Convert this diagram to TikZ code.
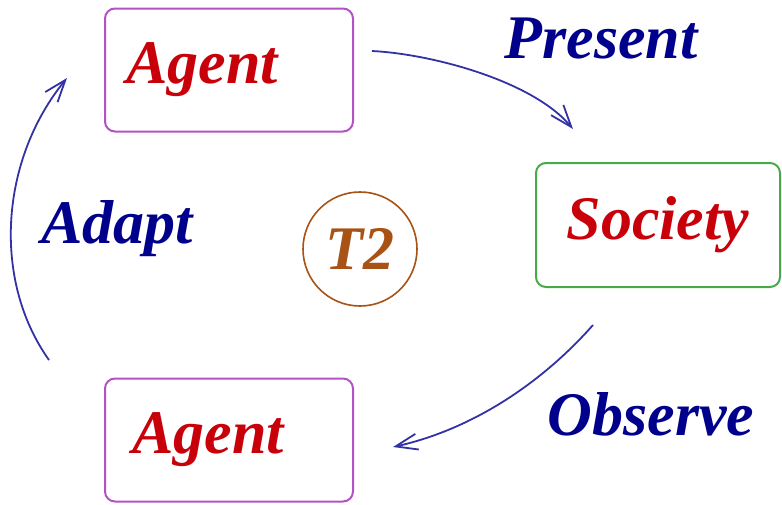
\documentclass[tikz,border=0pt]{standalone}
\usepackage{fontspec}
\setmainfont{Liberation Serif}
\usetikzlibrary{arrows.meta}

\definecolor{boxviolet}{RGB}{178,82,196}
\definecolor{boxgreen}{RGB}{70,170,70}
\definecolor{agentred}{RGB}{200,0,10}
\definecolor{labelnavy}{RGB}{0,0,140}
\definecolor{topicbrown}{RGB}{168,82,22}
\definecolor{flowblue}{RGB}{50,50,165}

\begin{document}
\begin{tikzpicture}[x=0.5pt, y=0.5pt, >={Straight Barb[length=11pt,width=8pt]},
	big text/.style={font=\fontsize{31}{36}\selectfont\bfseries\itshape},
	agent box/.style={big text, draw=boxviolet, line width=1pt, rounded corners=5pt,
		minimum width=124pt, minimum height=61.5pt, text=agentred},
	society box/.style={big text, draw=boxgreen, line width=1pt, rounded corners=5pt,
		minimum width=122pt, minimum height=62pt, text=agentred},
	topic circle/.style={big text, circle, draw=topicbrown, line width=0.8pt,
		minimum size=57pt, inner sep=0pt, text=topicbrown},
	flow label/.style={big text, anchor=base, text=labelnavy},
	flow/.style={->, draw=flowblue, line width=0.9pt}]
	
	\useasboundingbox (0,0) rectangle (782,-504);
	
	% the text sits left of the middle of each agent box
	\foreach \n/\y/\s in {top/70/27, bottom/440/21}
	\node [agent box] (agent-\n) at (229,-\y) {Agent\hspace*{\s pt}};
	
	\node [society box] (society) at (658,-225) {Society};
	
	\node [topic circle] (topic) at (360,-249) {T2};
	
	\foreach \l/\x/\y in {Present/601/58, Adapt/117/243, Observe/651/435}
	\node [flow label] (label-\l) at (\x,-\y) {\l};
	
	% arrow ends, kept clear of the boxes
	\coordinate (present-start) at (372,-51);
	\coordinate (present-end) at (573,-129);
	\coordinate (observe-start) at (593,-325);
	\coordinate (observe-end) at (393,-447);
	\coordinate (adapt-start) at (49,-360);
	\coordinate (adapt-end) at (67,-78);
	
	\draw [flow] (present-start) .. controls (432,-54) and (533,-81) .. (present-end);
	
	\draw [flow] (observe-start) .. controls (540,-385) and (470,-430) .. (observe-end);
	
	\draw [flow] (adapt-start) .. controls (-8,-280) and (0,-160) .. (adapt-end);
\end{tikzpicture}
\end{document}
